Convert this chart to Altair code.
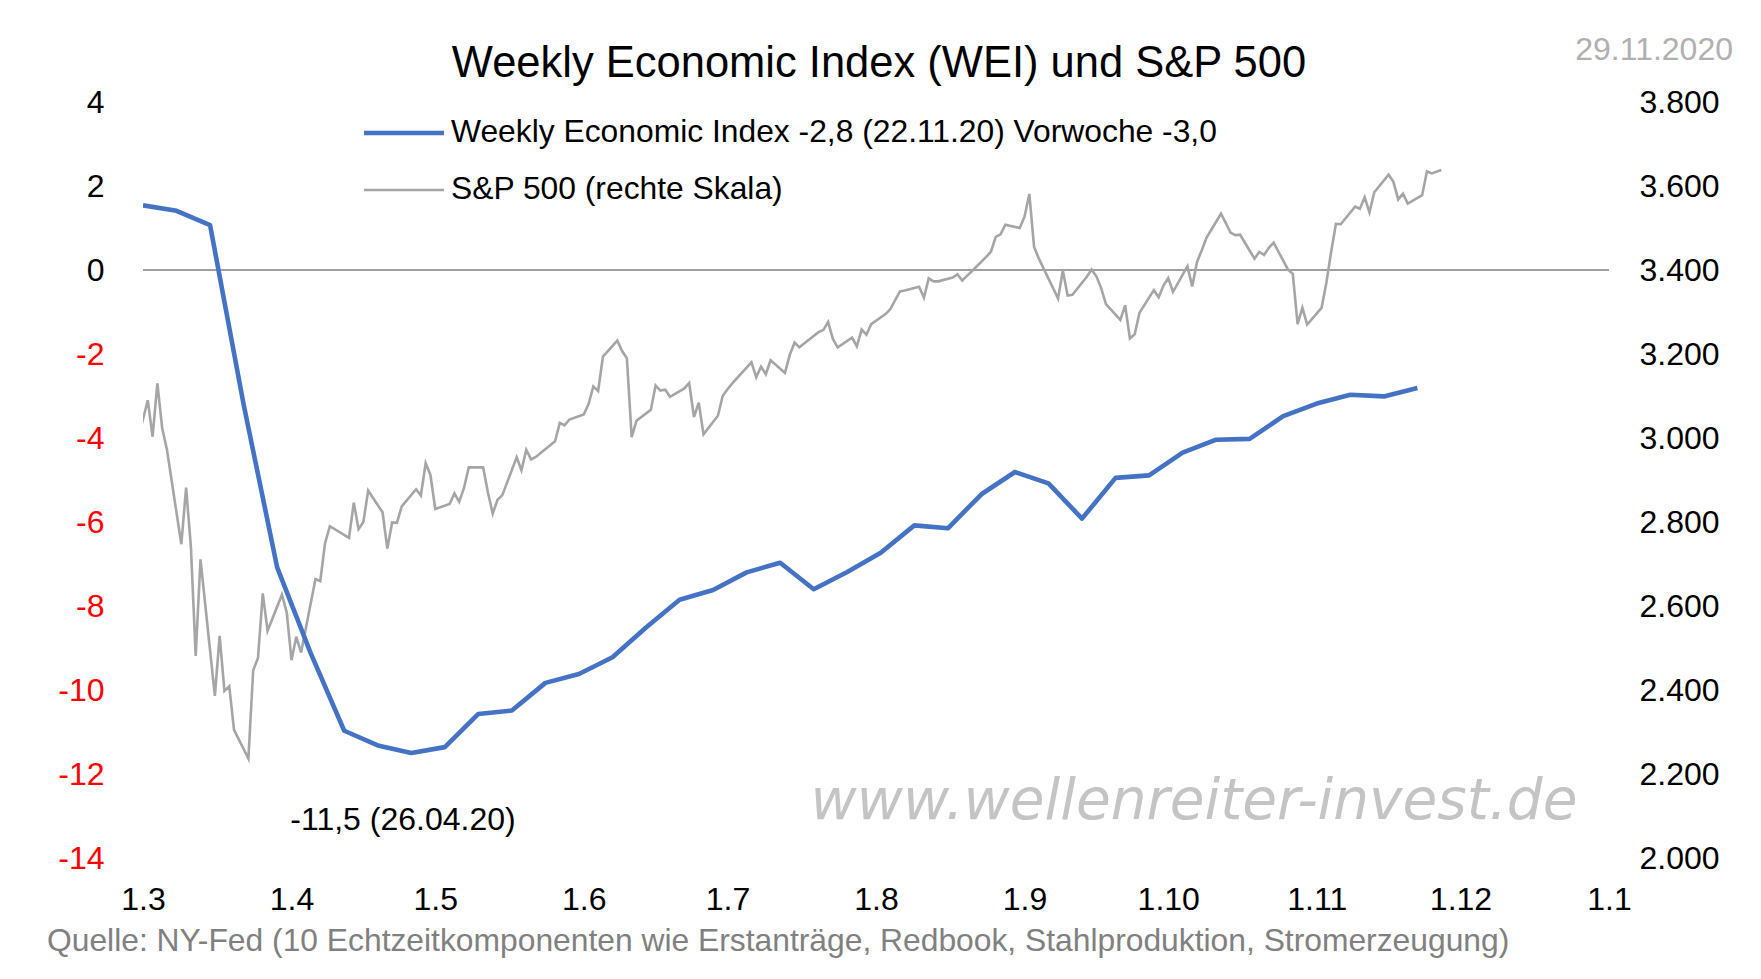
import altair as alt
import pandas as pd

# ---------------- data ----------------
wei_start = "2020-03-01"          # weekly values, one per Sunday
wei_values = [1.54, 1.41, 1.07, -3.2, -7.08, -9.12, -10.97, -11.32, -11.50, -11.36,
              -10.57, -10.49, -9.83, -9.62, -9.22, -8.51, -7.85, -7.62, -7.20, -6.97,
              -7.60, -7.19, -6.73, -6.08, -6.15, -5.34, -4.81, -5.08, -5.92, -4.95,
              -4.89, -4.35, -4.04, -4.02, -3.48, -3.18, -2.97, -3.01, -2.81]

sp_dates = (
    ["02-28"]
    + ["03-%02d" % d for d in [2, 3, 4, 5, 6, 9, 10, 11, 12, 13, 16, 17, 18, 19, 20, 23, 24, 25, 26, 27, 30, 31]]
    + ["04-%02d" % d for d in [1, 2, 3, 6, 7, 8, 9, 13, 14, 15, 16, 17, 20, 21, 22, 23, 24, 27, 28, 29, 30]]
    + ["05-%02d" % d for d in [1, 4, 5, 6, 7, 8, 11, 12, 13, 14, 15, 18, 19, 20, 21, 22, 26, 27, 28, 29]]
    + ["06-%02d" % d for d in [1, 2, 3, 4, 5, 8, 9, 10, 11, 12, 15, 16, 17, 18, 19, 22, 23, 24, 25, 26, 29, 30]]
    + ["07-%02d" % d for d in [1, 2, 6, 7, 8, 9, 10, 13, 14, 15, 16, 17, 20, 21, 22, 23, 24, 27, 28, 29, 30, 31]]
    + ["08-%02d" % d for d in [3, 4, 5, 6, 7, 10, 11, 12, 13, 14, 17, 18, 19, 20, 21, 24, 25, 26, 27, 28, 31]]
    + ["09-%02d" % d for d in [1, 2, 3, 4, 8, 9, 10, 11, 14, 15, 16, 17, 18, 21, 22, 23, 24, 25, 28, 29, 30]]
    + ["10-%02d" % d for d in [1, 2, 5, 6, 7, 8, 9, 12, 13, 14, 15, 16, 19, 20, 21, 22, 23, 26, 27, 28, 29, 30]]
    + ["11-%02d" % d for d in [2, 3, 4, 5, 6, 9, 10, 11, 12, 13, 16, 17, 18, 19, 20, 23, 24, 25, 27]]
)
sp_close = (
    [2954]
    + [3090, 3003, 3130, 3024, 2972, 2747, 2882, 2741, 2481, 2711, 2386, 2529, 2398, 2409, 2305, 2237, 2447, 2476, 2630, 2541, 2627, 2585]
    + [2471, 2527, 2489, 2664, 2659, 2750, 2790, 2762, 2846, 2783, 2800, 2875, 2823, 2737, 2799, 2798, 2837, 2878, 2863, 2940, 2912]
    + [2831, 2843, 2868, 2848, 2881, 2930, 2930, 2870, 2820, 2853, 2864, 2954, 2923, 2972, 2949, 2955, 2992, 3036, 3030, 3044]
    + [3056, 3081, 3123, 3112, 3194, 3232, 3207, 3190, 3002, 3041, 3067, 3125, 3113, 3115, 3098, 3118, 3131, 3050, 3084, 3009, 3053, 3100]
    + [3116, 3130, 3180, 3145, 3170, 3152, 3185, 3155, 3198, 3227, 3216, 3225, 3252, 3257, 3276, 3236, 3216, 3239, 3218, 3258, 3246, 3271]
    + [3295, 3307, 3328, 3349, 3351, 3360, 3334, 3380, 3373, 3373, 3382, 3390, 3375, 3386, 3397, 3431, 3444, 3479, 3485, 3508, 3500]
    + [3527, 3581, 3455, 3427, 3332, 3399, 3339, 3341, 3384, 3401, 3385, 3357, 3319, 3281, 3316, 3237, 3247, 3298, 3352, 3335, 3363]
    + [3381, 3348, 3409, 3361, 3419, 3447, 3477, 3534, 3512, 3489, 3483, 3484, 3427, 3443, 3436, 3453, 3465, 3401, 3391, 3271, 3310, 3270]
    + [3310, 3369, 3443, 3510, 3509, 3551, 3546, 3573, 3537, 3585, 3627, 3610, 3568, 3582, 3558, 3578, 3635, 3630, 3638]
)

tick_months = [(2020, 3), (2020, 4), (2020, 5), (2020, 6), (2020, 7), (2020, 8),
               (2020, 9), (2020, 10), (2020, 11), (2020, 12), (2021, 1)]
left_ticks = [-14, -12, -10, -8, -6, -4, -2, 0, 2, 4]
right_ticks = [2000, 2200, 2400, 2600, 2800, 3000, 3200, 3400, 3600, 3800]

title_text = "Weekly Economic Index (WEI) und S&P 500"
date_text = "29.11.2020"
legend_labels = ["Weekly Economic Index -2,8 (22.11.20) Vorwoche -3,0", "S&P 500 (rechte Skala)"]
annotation_text = "-11,5 (26.04.20)"
source_text = "Quelle: NY-Fed (10 Echtzeitkomponenten wie Erstanträge, Redbook, Stahlproduktion, Stromerzeugung)"
watermark_text = "www.wellenreiter-invest.de"

# ---------------- frames ----------------
wei_df = pd.DataFrame({"date": pd.date_range(wei_start, periods=len(wei_values), freq="7D"),
                       "wei": wei_values})
sp_df = pd.DataFrame({"date": pd.to_datetime(["2020-" + d for d in sp_dates]), "sp": sp_close})
zero_df = pd.DataFrame({"y": [0]})

FONT = "Liberation Sans"
W, H = 1466, 756
BLUE = "#4472c4"
GREY = "#a5a5a5"
TICK_SIZE = 32

x_scale = alt.Scale(domain=[alt.DateTime(year=2020, month=3, date=1),
                            alt.DateTime(year=2021, month=1, date=1)])
x_axis = alt.Axis(values=[alt.DateTime(year=y, month=m, date=1) for y, m in tick_months],
                  format="%-d.%-m", title=None, grid=False, domain=False, ticks=False,
                  tickSize=0, labelFont=FONT, labelFontSize=TICK_SIZE, labelColor="#000000",
                  labelPadding=26, labelFlush=False, labelOverlap=False, labelBound=False)
left_scale = alt.Scale(domain=[-14, 4], nice=False, zero=False)
right_scale = alt.Scale(domain=[2000, 3800], nice=False, zero=False)

left_axis = alt.Axis(orient="left", values=left_ticks, title=None, grid=False, domain=False,
                     ticks=False, tickSize=0, labelPadding=39, labelFont=FONT,
                     labelFontSize=TICK_SIZE, labelExpr="'' + datum.value",
                     labelColor={"condition": {"test": "datum.value < 0", "value": "#ff0000"},
                                 "value": "#000000"})
right_axis = alt.Axis(orient="right", values=right_ticks, title=None, grid=False, domain=False,
                      ticks=False, tickSize=0, labelPadding=30, labelFont=FONT,
                      labelFontSize=TICK_SIZE, labelColor="#000000",
                      labelExpr="replace(format(datum.value, ','), ',', '.')")

zero_line = alt.Chart(zero_df).mark_rule(color="#a0a0a0", strokeWidth=2).encode(
    y=alt.Y("y:Q", scale=left_scale, axis=None))

sp_line = alt.Chart(sp_df).mark_line(color=GREY, strokeWidth=2.6, clip=True).encode(
    x=alt.X("date:T", scale=x_scale, axis=x_axis),
    y=alt.Y("sp:Q", scale=right_scale, axis=right_axis))

wei_line = alt.Chart(wei_df).mark_line(color=BLUE, strokeWidth=4.6, clip=True,
                                       strokeJoin="round").encode(
    x=alt.X("date:T", scale=x_scale, axis=x_axis),
    y=alt.Y("wei:Q", scale=left_scale, axis=left_axis))


def text_layer(txt, x, y, size, color="#000000", align="left", font=FONT, style="normal"):
    return alt.Chart(pd.DataFrame({"t": [txt]})).mark_text(
        font=font, fontSize=size, color=color, align=align, baseline="alphabetic",
        fontStyle=style).encode(text="t:N", x=alt.value(x), y=alt.value(y))


title = text_layer(title_text, 736, -25, 43.5, align="center")
date = text_layer(date_text, 1590, -42, 32, color="#b0b0b0", align="right")
annot = text_layer(annotation_text, 260, 728, 32, align="center")
source = text_layer(source_text, -96, 849, 31.8, color="#808080")
watermark = text_layer(watermark_text, 1051, 717, 56.5, color="#c4c4c4", align="center",
                       font="DejaVu Sans", style="italic")

leg_rule1 = alt.Chart(pd.DataFrame({"k": [0]})).mark_rule(color=BLUE, strokeWidth=4.6,
                                                          strokeCap="butt").encode(
    x=alt.value(221), x2=alt.value(301), y=alt.value(31))
leg_rule2 = alt.Chart(pd.DataFrame({"k": [0]})).mark_rule(color=GREY, strokeWidth=2.6,
                                                          strokeCap="butt").encode(
    x=alt.value(221), x2=alt.value(301), y=alt.value(88))
leg_text1 = text_layer(legend_labels[0], 308, 40, 31.8)
leg_text2 = text_layer(legend_labels[1], 308, 97, 31.8)

chart = alt.layer(
    zero_line, sp_line, wei_line,
    watermark, title, date, annot, source,
    leg_rule1, leg_rule2, leg_text1, leg_text2,
).resolve_scale(y="independent").properties(
    width=W, height=H,
    autosize=alt.AutoSizeParams(type="none"),
    padding={"left": 135, "top": 94, "right": 140, "bottom": 110},
    background="#ffffff",
).configure_view(stroke=None)

chart.save("out.html", embed_options={"renderer": "svg", "actions": False})
